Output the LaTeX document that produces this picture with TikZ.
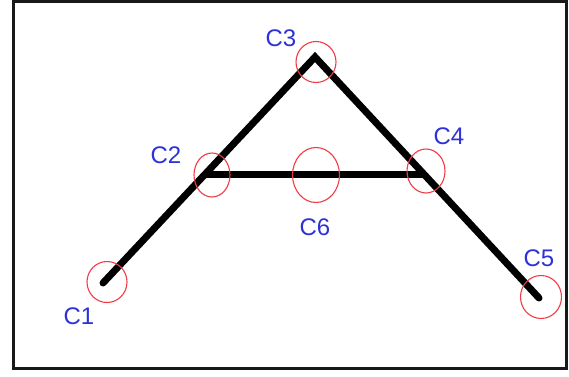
\documentclass[tikz,border=0pt]{standalone}
\usepackage{fontspec}
\setmainfont{Liberation Sans}
\usetikzlibrary{shapes.geometric}
\definecolor{lblblue}{RGB}{45,50,215}
\definecolor{ringred}{RGB}{240,60,70}
\definecolor{framec}{RGB}{25,25,25}
\tikzset{
  ring/.style={ellipse, draw=ringred, line width=1.1pt, inner sep=0pt},
  lbl/.style={text=lblblue, font=\fontsize{24}{26}\selectfont, inner sep=0pt},
  member/.style={line width=7pt, line cap=round, line join=miter, black},
}
\begin{document}
\begin{tikzpicture}[x=1pt,y=-1pt]
\useasboundingbox (0,0) rectangle (569,376);
\fill[white] (0,0) rectangle (569,376);
\draw[framec, line width=2.5pt] (13.5,1.5) rectangle (566.5,368.5);
% joints
\coordinate (p1) at (103,283);
\coordinate (p2) at (205,174);
\coordinate (p3) at (315,57);
\coordinate (p4) at (424,174);
\coordinate (p5) at (539,298);
% members
\draw[member] (p1) -- (p3) -- (p5);
\draw[member, line cap=butt] (p2) -- (p4);
% rings
\node[ring, minimum width=40pt, minimum height=41pt] (r1) at (107,282) {};
\node[ring, minimum width=36pt, minimum height=44pt] (r2) at (212,175) {};
\node[ring, minimum width=40pt, minimum height=41pt] (r3) at (316,62) {};
\node[ring, minimum width=38pt, minimum height=44pt] (r4) at (426,171) {};
\node[ring, minimum width=41pt, minimum height=43pt] (r5) at (541,297) {};
\node[ring, minimum width=47pt, minimum height=55pt] (r6) at (316,175) {};
% labels
\node[lbl] (l1) at (79,316) {C1};
\node[lbl] (l2) at (166,155) {C2};
\node[lbl] (l3) at (281,38) {C3};
\node[lbl] (l4) at (449,136) {C4};
\node[lbl] (l5) at (539,258) {C5};
\node[lbl] (l6) at (315,227) {C6};
\end{tikzpicture}
\end{document}
